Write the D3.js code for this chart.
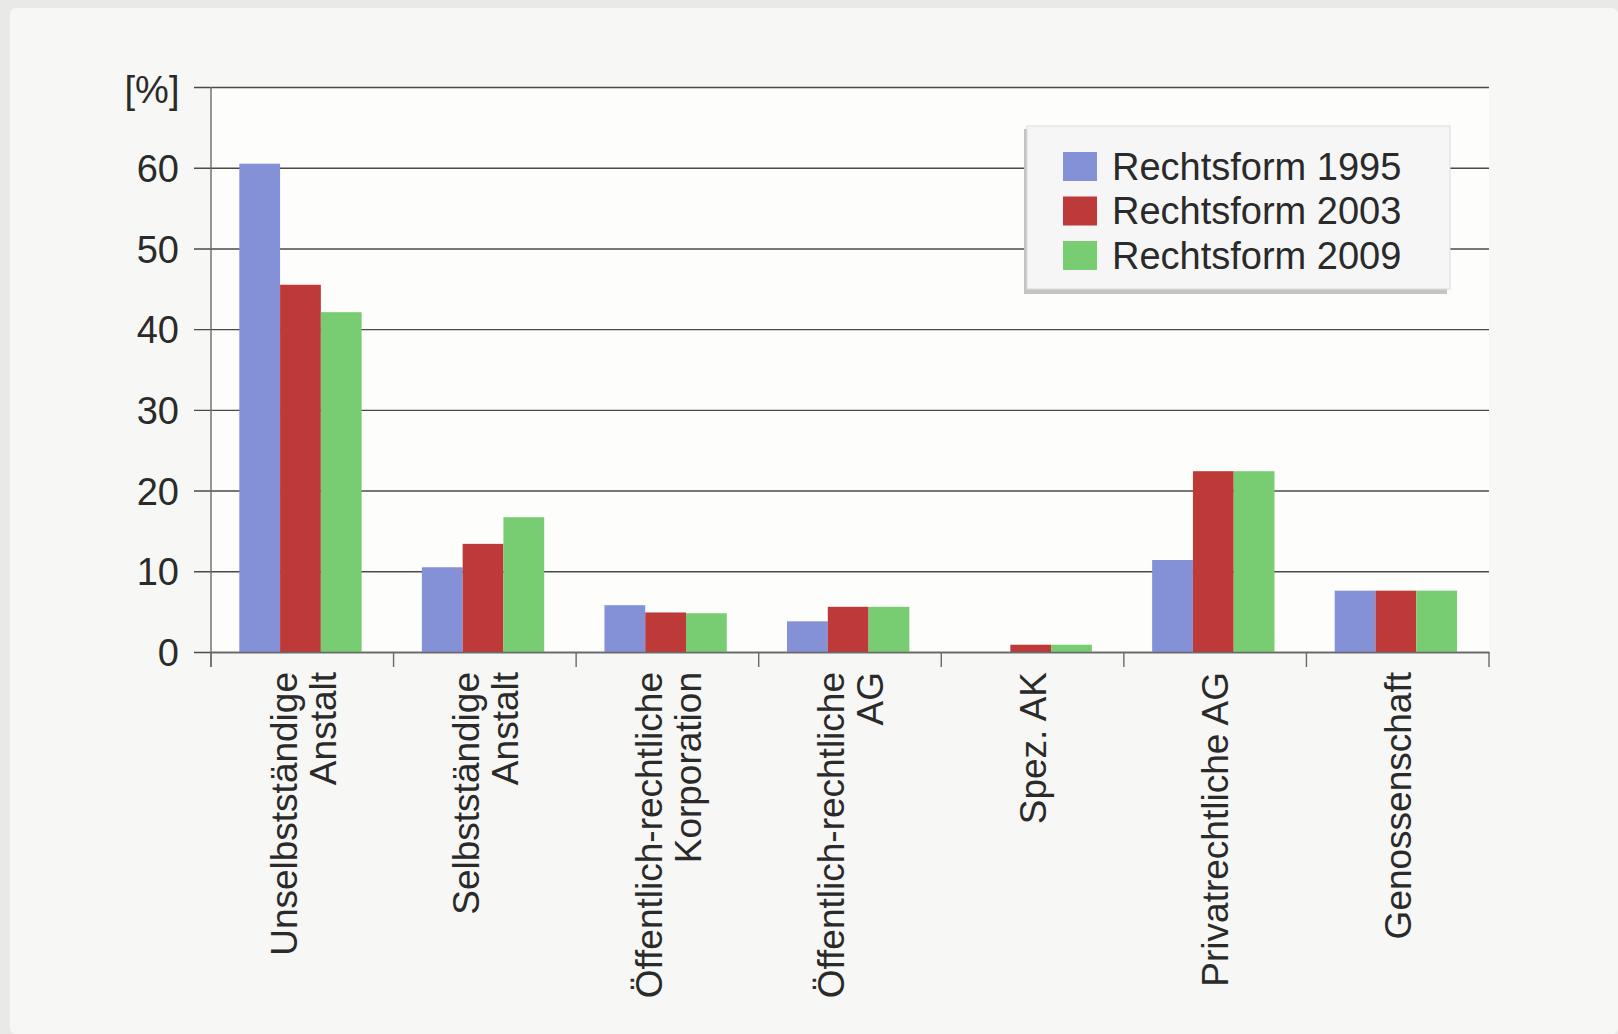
<!DOCTYPE html>
<html>
<head>
<meta charset="utf-8">
<script src="https://cdn.jsdelivr.net/npm/d3@7"></script>
<style>
  html, body { margin: 0; padding: 0; background: #f4f4f2; }
  svg { display: block; font-family: "Liberation Sans", Arial, sans-serif; }
</style>
</head>
<body>
<div id="chart"></div>
<script>
// categories and values
var categories = ["Unselbstständige\nAnstalt", "Selbstständige\nAnstalt", "Öffentlich-rechtliche\nKorporation",
                  "Öffentlich-rechtliche\nAG", "Spez. AK", "Privatrechtliche AG", "Genossenschaft"];
var series = ["Rechtsform 1995", "Rechtsform 2003", "Rechtsform 2009"];
var values1995 = [60.5, 10.5, 5.8, 3.8, 0, 11.4, 7.6];
var values2003 = [45.5, 13.4, 4.9, 5.6, 0.9, 22.4, 7.6];
var values2009 = [42.1, 16.7, 4.8, 5.6, 0.9, 22.4, 7.6];
var yTicks = [0, 10, 20, 30, 40, 50, 60, 70];
var colors = ["#8491d6", "#be3a38", "#78cc72"];

var W = 1618, H = 1034;
var m = {left: 211, right: 1489, top: 87, bottom: 652};

var svg = d3.select("#chart").append("svg").attr("width", W).attr("height", H);

// scanned page frame
svg.append("rect").attr("x", 0).attr("y", 0).attr("width", W).attr("height", H).attr("fill", "#e9e9e7");
svg.append("rect").attr("x", 10).attr("y", 8).attr("width", W - 10).attr("height", H - 8)
  .attr("rx", 6).attr("fill", "#f7f7f5");
svg.append("rect").attr("x", m.left).attr("y", m.top).attr("width", m.right - m.left).attr("height", m.bottom - m.top)
  .attr("fill", "#fdfdfc");

var x0 = d3.scaleBand().domain(categories).range([m.left, m.right]).padding(0);
var bw = x0.bandwidth();
var x1 = d3.scaleBand().domain(series).range([bw * 0.155, bw * 0.825]).padding(0);
var y = d3.scaleLinear().domain([0, 70]).range([m.bottom, m.top]);

var data = categories.map(function(c, i) {
  return {cat: c, vals: [values1995[i], values2003[i], values2009[i]]};
});

// gridlines + y axis
var yAxis = d3.axisLeft(y).tickValues(yTicks).tickSize(m.right - m.left + 17)
  .tickFormat(function(d) { return d === 70 ? "" : d; });
var gy = svg.append("g").attr("transform", "translate(" + m.right + ",0)").call(yAxis);
gy.select(".domain").remove();
gy.selectAll(".tick line").attr("stroke", "#4a4a4a").attr("stroke-width", 1.4);
gy.selectAll(".tick text").attr("x", -(m.right - m.left) - 32).attr("dy", "0.36em")
  .attr("font-size", 38).attr("fill", "#2a2a2a");

svg.append("line").attr("x1", m.left).attr("x2", m.left).attr("y1", m.top).attr("y2", m.bottom + 15)
  .attr("stroke", "#6a6a6a").attr("stroke-width", 1.4);

svg.append("text").attr("x", 152).attr("y", 103).attr("text-anchor", "middle")
  .attr("font-size", 38).attr("fill", "#2a2a2a").text("[%]");

// bars
var groups = svg.selectAll("g.cat").data(data).enter().append("g").attr("class", "cat")
  .attr("transform", function(d) { return "translate(" + x0(d.cat) + ",0)"; });
groups.selectAll("rect").data(function(d) { return d.vals.map(function(v, j) { return {s: series[j], v: v, j: j}; }); })
  .enter().append("rect")
  .attr("x", function(d) { return x1(d.s); })
  .attr("width", x1.bandwidth())
  .attr("y", function(d) { return y(d.v); })
  .attr("height", function(d) { return m.bottom - y(d.v); })
  .attr("fill", function(d) { return colors[d.j]; });

// x axis
var xAxis = d3.axisBottom(x0).tickValues([]).tickSizeOuter(0);
var gx = svg.append("g").attr("transform", "translate(0," + m.bottom + ")").call(xAxis);
gx.select(".domain").attr("stroke", "#6a6a6a").attr("stroke-width", 1.4);
var bounds = categories.map(function(c) { return x0(c); }).concat([m.right]);
gx.selectAll("line.sep").data(bounds).enter().append("line").attr("class", "sep")
  .attr("x1", function(d) { return d; }).attr("x2", function(d) { return d; })
  .attr("y1", 0).attr("y2", 15).attr("stroke", "#6a6a6a").attr("stroke-width", 1.4);

// rotated category labels
var labels = svg.selectAll("text.cat").data(categories).enter().append("text").attr("class", "cat")
  .attr("transform", function(d) { return "translate(" + (x0(d) + bw / 2) + ",672) rotate(-90)"; })
  .attr("text-anchor", "end").attr("font-size", 37).attr("fill", "#2a2a2a");
labels.each(function(d) {
  var lines = d.split("\n");
  var t = d3.select(this);
  lines.forEach(function(l, k) {
    var off = lines.length === 1 ? 0 : (k === 0 ? -19 : 20);
    t.append("tspan").attr("x", 0).attr("y", off).attr("dy", "0.36em").text(l);
  });
});

// legend
var lg = svg.append("g").attr("transform", "translate(1027,126)");
lg.append("rect").attr("x", -3).attr("y", 3).attr("width", 423).attr("height", 165).attr("fill", "#c4c4c4");
lg.append("rect").attr("width", 423).attr("height", 163).attr("fill", "#f6f6f6").attr("stroke", "#dcdcdc");
var items = lg.selectAll("g.item").data(series).enter().append("g").attr("class", "item")
  .attr("transform", function(d, i) { return "translate(36," + (40 + i * 44.5) + ")"; });
items.append("rect").attr("x", 0).attr("y", -14).attr("width", 34).attr("height", 29)
  .attr("fill", function(d, i) { return colors[i]; });
items.append("text").attr("x", 49).attr("dy", "0.36em").attr("font-size", 38).attr("fill", "#2a2a2a")
  .text(function(d) { return d; });
</script>
</body>
</html>
